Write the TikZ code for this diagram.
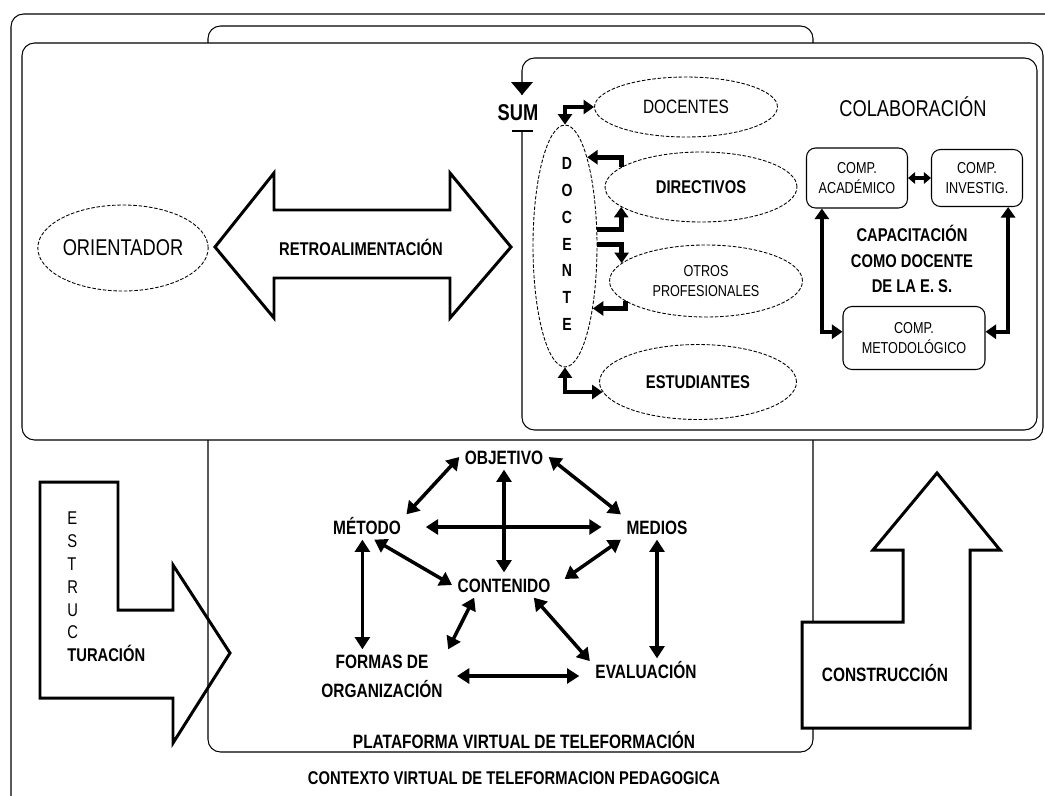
\documentclass[tikz,border=0pt]{standalone}
\usepackage{fontspec}
\setmainfont{Liberation Sans}[FakeStretch=0.8]
\usetikzlibrary{arrows.meta, shapes.geometric}

\begin{document}
\begin{tikzpicture}[
  x = 0.02cm,
  y = -0.02cm,
  >={Triangle[length = 6pt, width = 8pt]},
  frame/.style = {draw, line width = 0.6pt, rounded corners = 0.25cm},
  blockarrow/.style = {draw, line width = 1.7pt, line join = miter},
  oval/.style = {draw, ellipse, dash pattern = on 2pt off 1pt, line width = 0.5pt, inner sep = 0pt},
  compbox/.style = {draw, rounded corners = 0.18cm, line width = 0.6pt, align = center, font = \fontsize{9}{11}\selectfont},
  heading/.style = {font = \fontsize{13}{15}\selectfont},
  strong/.style = {font = \bfseries\fontsize{10.5}{12.5}\selectfont, align = center},
  thin/.style = {font = \fontsize{9}{11}\selectfont, align = center},
  item/.style = {font = \bfseries\fontsize{11}{16}\selectfont, align = center, inner sep = 3pt, text height = 8pt, text depth = 0pt},
  bent/.style = {line width = 2.6pt, line join = miter},
  link/.style = {line width = 2pt, >={Triangle[length = 7pt, width = 8.5pt]}, <->},
  ]

  \useasboundingbox (0, 0) rectangle (1045, 795);

  \draw [frame] (11, 14) rectangle (1060, 810);

  \draw [frame] (208, 26) rectangle (813, 752);

  \draw [frame, fill = white] (22, 43) rectangle (1043, 440);

  \draw [frame] (522, 58) rectangle (1037, 430);

  \node at (518, 113)
  [font = \bfseries\fontsize{13}{15}\selectfont, fill = white, minimum height = 0.72cm, inner sep = 1pt, name = Sum] {SUM};

  \fill (511, 82) -- (533, 82) -- (522, 95) -- cycle;

  \draw [line width = 0.6pt] (512, 131) -- (533, 131);

  \node at (123, 248)
  [oval, heading, minimum width = 3.4cm, minimum height = 1.72cm, name = Orientador] {ORIENTADOR};

  \draw [blockarrow] (215, 247) -- (274, 173) -- (274, 210) -- (450, 210) -- (450, 173)
    -- (511, 247) -- (450, 318) -- (450, 278) -- (274, 278) -- (274, 318) -- cycle;

  \node at (361, 247)
  [strong, name = Retro] {RETROALIMENTACIÓN};

  \node at (565, 246)
  [oval, minimum width = 1.28cm, minimum height = 4.84cm, name = Docente] {};

  \node at (567, 244)
  [font = \bfseries\fontsize{10}{15.3}\selectfont, align = center, name = DocenteLetras] {D\\O\\C\\E\\N\\T\\E};

  \node at (686, 107)
  [oval, minimum width = 3.66cm, minimum height = 1.2cm, font = \fontsize{11}{13}\selectfont, name = Docentes] {DOCENTES};

  \node at (701, 187)
  [oval, strong, minimum width = 3.84cm, minimum height = 1.4cm, name = Directivos] {DIRECTIVOS};

  \node at (706, 281)
  [oval, thin, minimum width = 3.86cm, minimum height = 1.44cm, name = Otros] {OTROS\\PROFESIONALES};

  \node at (698, 382)
  [oval, strong, minimum width = 3.94cm, minimum height = 1.5cm, name = Estudiantes] {ESTUDIANTES};

  \draw [bent, <->] (Docente.north) |- (Docentes.west);

  \draw [bent, ->] (Directivos.166) |- (Docente.76);

  \draw [bent, ->] (Docente.27) -| (Directivos.194);

  \draw [bent, ->] (Docente.3) -| (Otros.168);

  \draw [bent, ->] (Otros.194) |- (Docente.294);

  \draw [bent, <->] (Docente.south) |- (Estudiantes.186);

  \node at (913, 107)
  [heading, name = Colaboracion] {COLABORACIÓN};

  \node at (857, 178)
  [compbox, minimum width = 2.02cm, minimum height = 1.2cm, name = CompAcademico] {COMP.\\ACADÉMICO};

  \node at (977, 178)
  [compbox, minimum width = 1.82cm, minimum height = 1.14cm, name = CompInvestig] {COMP.\\INVESTIG.};

  \node at (914, 338)
  [compbox, minimum width = 2.84cm, minimum height = 1.26cm, name = CompMetodologico] {COMP.\\METODOLÓGICO};

  \node at (912, 259)
  [font = \bfseries\fontsize{10.5}{14.7}\selectfont, align = center, name = Capacitacion] {CAPACITACIÓN\\COMO DOCENTE\\DE LA E. S.};

  \draw [bent, line width = 2pt, >={Triangle[length = 4pt, width = 6.5pt]}, <->] (CompAcademico) -- (CompInvestig);

  \draw [bent, line width = 2pt, <->] (CompAcademico.221) |- (CompMetodologico.175);

  \draw [bent, line width = 2pt, <->] (CompInvestig.317) |- (CompMetodologico.5);

  \draw [blockarrow] (40, 482) -- (118, 482) -- (118, 610) -- (173, 610) -- (173, 565)
    -- (230, 653) -- (173, 743) -- (173, 698) -- (40, 698) -- cycle;

  \node at (67, 587)
  [anchor = west, inner sep = 0pt, align = left, font = \fontsize{10.5}{13}\selectfont, name = Estructuracion]
  {E\\S\\T\\R\\U\\C\\\textbf{TURACIÓN}};

  \draw [blockarrow, fill = white] (937, 473) -- (1000, 550) -- (970, 550) -- (970, 728) -- (802, 728)
    -- (802, 622) -- (903, 622) -- (903, 550) -- (873, 550) -- cycle;

  \node at (885, 673)
  [strong, font = \bfseries\fontsize{11}{13}\selectfont, name = Construccion] {CONSTRUCCIÓN};

  \node at (504, 457)
  [item, name = Objetivo] {OBJETIVO};

  \node at (367, 527)
  [item, name = Metodo] {MÉTODO};

  \node at (657, 527)
  [item, name = Medios] {MEDIOS};

  \node at (504, 585)
  [item, name = Contenido] {CONTENIDO};

  \node at (382, 676)
  [item, text height = 24pt, name = Formas] {FORMAS DE\\ORGANIZACIÓN};

  \node at (646, 671)
  [item, name = Evaluacion] {EVALUACIÓN};

  \draw [link] (Objetivo.west) -- (Metodo.north east);

  \draw [link] (Objetivo.east) -- (Medios.north west);

  \draw [link] (Objetivo.south) -- (Contenido.north);

  \draw [link, shorten <= 11pt, shorten >= 11pt] (Metodo.east) -- (Medios.west);

  \draw [link] (Metodo.300) -- (Contenido.west);

  \draw [link, shorten >= 6pt] (Medios.south west) -- (Contenido.east);

  \draw [link] (Metodo.250) -- (Metodo.250 |- Formas.north);

  \draw [link] (Medios.south) -- (Medios.south |- Evaluacion.north);

  \draw [link] (Contenido.203) -- (Formas.north east);

  \draw [link] (Contenido.337) -- (Evaluacion.170);

  \draw [link, shorten <= 5pt, shorten >= 6pt] (Formas.east) -- (Formas.east -| Evaluacion.west);

  \node at (524, 740)
  [strong, font = \bfseries\fontsize{11}{13}\selectfont, name = Plataforma] {PLATAFORMA VIRTUAL DE TELEFORMACIÓN};

  \node at (514, 778)
  [strong, name = Contexto] {CONTEXTO VIRTUAL DE TELEFORMACION PEDAGOGICA};

\end{tikzpicture}
\end{document}
